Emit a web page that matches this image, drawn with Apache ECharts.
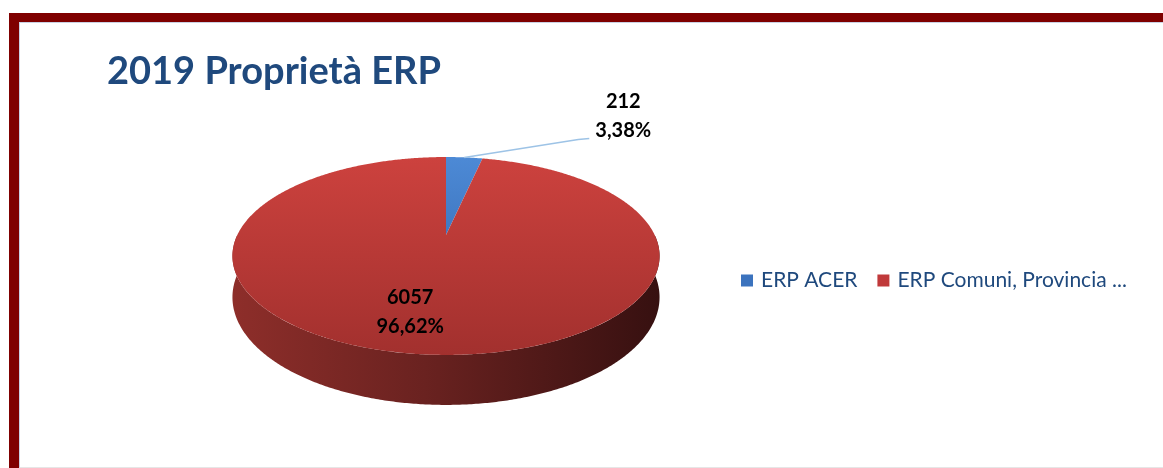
<!DOCTYPE html>
<html><head><meta charset="utf-8">
<script src="https://cdn.jsdelivr.net/npm/echarts@6/dist/echarts.min.js"></script>
<style>
html,body{margin:0;padding:0;background:#fff;width:1163px;height:468px;overflow:hidden;}
#frame{position:absolute;left:9px;top:13px;width:1200px;height:460px;border-left:10px solid #7f0000;border-top:9px solid #7f0000;}
#inner{position:absolute;left:19px;top:22px;width:1200px;height:444px;border-left:1px solid #c9d1e3;border-top:1px solid #c9d1e3;border-bottom:1px solid #e6e6e6;}
#chart{position:absolute;left:0;top:0;width:1163px;height:468px;}
</style></head>
<body>
<div id="frame"></div><div id="inner"></div>
<div id="chart"></div>
<script>
const titleText = '2019 Proprietà ERP';
const categories = ['ERP ACER', 'ERP Comuni, Provincia ...'];
const values = [212, 6057];

const topGrad = [['#4d8ad6', '#2c5ea4'], ['#cd423e', '#a2302e']];
const legendColors = ['#3b73be', '#c0393a'];

const total = values.reduce((a, b) => a + b, 0);
// pseudo-3D geometry
const G = { cx: 446, cy: 235, A: 94.5, B: 208.7, k: -0.212, D: 39.4 };
function proj(theta, r, z) {
  const t = theta * Math.PI / 180;
  const u = Math.sin(t) * r, v = -Math.cos(t) * r;
  const s = 1 / (1 + G.k * v);
  return [G.cx + G.B * u * s, G.cy + (G.A * v + G.D * z) * s];
}
function fmtPct(v) { return (v / total * 100).toFixed(2).replace('.', ',') + '%'; }

function makeRender(i) {
  return function (params, api) {
    let before = 0;
    for (let j = 0; j < i; j++) before += values[j];
    const val = api.value(0);
    const a0 = before / total * 360, a1 = (before + val) / total * 360;
    const children = [];
    const s0 = Math.max(a0, 90), s1 = Math.min(a1, 270);
    if (s1 > s0) {
      const topPts = [], botPts = [];
      for (let a = s0; a <= s1 + 1e-6; a += Math.min(0.5, s1 - s0)) {
        topPts.push(proj(a, 1, 0));
        botPts.push(proj(a, 1, 1));
      }
      const pts = topPts.concat(botPts.reverse());
      children.push({
        type: 'polygon', shape: { points: pts },
        style: { fill: new echarts.graphic.LinearGradient(230, 0, 662, 0, [
          { offset: 0, color: '#8e2e2a' }, { offset: 0.45, color: '#6a2220' }, { offset: 1, color: '#361010' }], true) }
      });
    }
    const pts = [[G.cx, G.cy]];
    const n = Math.max(2, Math.ceil((a1 - a0) / 0.5));
    for (let m = 0; m <= n; m++) pts.push(proj(a0 + (a1 - a0) * m / n, 1, 0));
    children.push({
      type: 'polygon', shape: { points: pts },
      style: { fill: new echarts.graphic.LinearGradient(0, 155, 0, 356, [
        { offset: 0, color: topGrad[i][0] }, { offset: 1, color: topGrad[i][1] }], true) }
    });
    const labelText = String(val) + '\n' + fmtPct(val);
    const mid = (a0 + a1) / 2;
    const font = 'bold 20px Lato';
    if (val / total < 0.1) {
      const p0 = proj(mid, 1, 0);
      const p1 = [p0[0] + 114, p0[1] - 18];
      const p2 = [p1[0] + 11, p1[1] - 1];
      children.push({ type: 'polyline', shape: { points: [p0, p1, p2] },
        style: { stroke: '#9dc3e6', lineWidth: 1.5, fill: null } });
      children.push({ type: 'text', x: p2[0] + 34, y: p2[1] - 22,
        style: { text: labelText, align: 'center', verticalAlign: 'middle', lineHeight: 29,
          font, fill: '#000' } });
    } else {
      const p = proj(mid, 0.72, 0);
      children.push({ type: 'text', x: p[0] - 17, y: p[1] - 3,
        style: { text: labelText, align: 'center', verticalAlign: 'middle', lineHeight: 29,
          font, fill: '#000' } });
    }
    return { type: 'group', children };
  };
}

const chart = echarts.init(document.getElementById('chart'), null, { renderer: 'canvas' });
chart.setOption({
  animation: false,
  title: { text: titleText, left: 102, top: 48,
    textStyle: { fontFamily: 'Lato', fontWeight: 'bold', fontSize: 38, color: '#1f497d' } },
  legend: {
    left: 736, top: 265, icon: 'rect', itemWidth: 12, itemHeight: 12, itemGap: 20,
    data: categories,
    textStyle: { fontFamily: 'Lato', fontSize: 21, color: '#1f497d', padding: [0, 0, 0, 3] }
  },
  series: categories.map((name, i) => ({
    type: 'custom', name, coordinateSystem: 'none',
    data: [[values[i]]], renderItem: makeRender(i),
    itemStyle: { color: legendColors[i] }, silent: true
  }))
});
</script>
</body></html>
